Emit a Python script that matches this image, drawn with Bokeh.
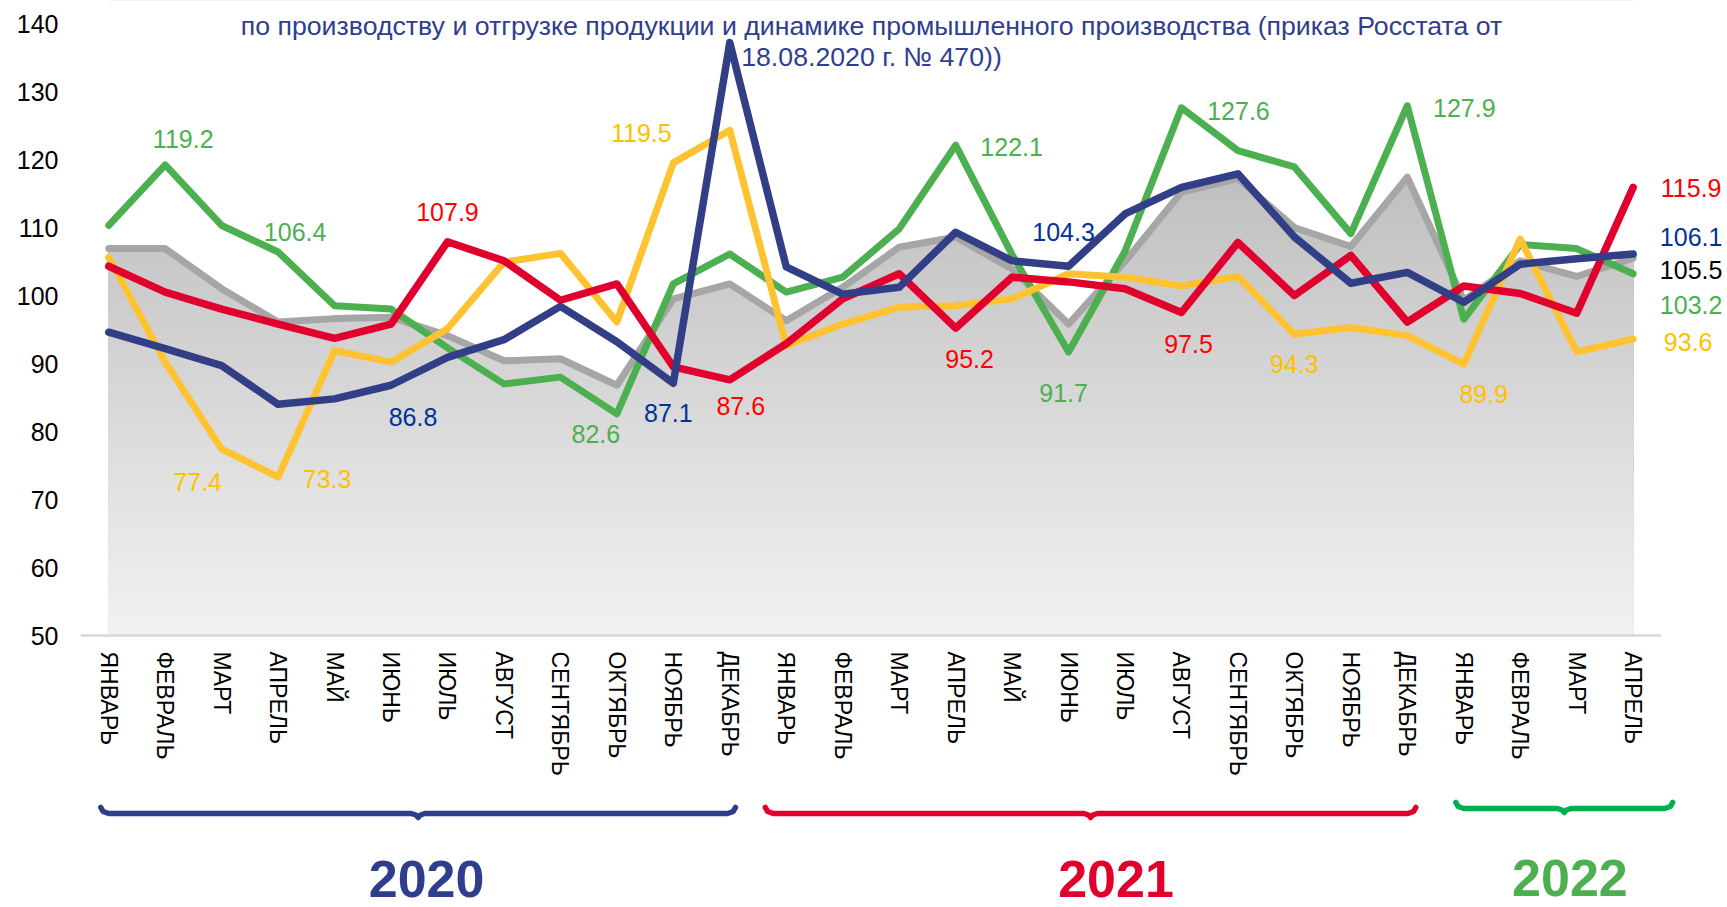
import numpy as np
from bokeh.plotting import figure
from bokeh.models import Range1d, FixedTicker
from bokeh.layouts import column
from bokeh.core.properties import value
from bokeh.embed import file_html
from bokeh.resources import INLINE

# ---------------- data ----------------
months = ["ЯНВАРЬ", "ФЕВРАЛЬ", "МАРТ", "АПРЕЛЬ", "МАЙ", "ИЮНЬ", "ИЮЛЬ", "АВГУСТ",
          "СЕНТЯБРЬ", "ОКТЯБРЬ", "НОЯБРЬ", "ДЕКАБРЬ",
          "ЯНВАРЬ", "ФЕВРАЛЬ", "МАРТ", "АПРЕЛЬ", "МАЙ", "ИЮНЬ", "ИЮЛЬ", "АВГУСТ",
          "СЕНТЯБРЬ", "ОКТЯБРЬ", "НОЯБРЬ", "ДЕКАБРЬ",
          "ЯНВАРЬ", "ФЕВРАЛЬ", "МАРТ", "АПРЕЛЬ"]
years = ["2020", "2021", "2022"]
year_counts = [12, 12, 4]

gray = [106.9, 106.9, 101.0, 96.1, 96.6, 96.8, 94.1, 90.4, 90.7, 86.8, 99.5, 101.7,
        96.3, 101.2, 107.1, 108.6, 103.9, 95.8, 105.0, 115.2, 117.2, 110.0, 107.2, 117.4,
        99.3, 105.1, 102.8, 105.5]
green = [110.3, 119.2, 110.3, 106.4, 98.5, 98.0, 92.3, 87.0, 88.0, 82.6, 101.7, 106.1,
         100.5, 102.7, 109.8, 122.1, 106.0, 91.7, 106.5, 127.6, 121.3, 118.9, 109.1, 127.9,
         96.5, 107.5, 106.9, 103.2]
yellow = [105.6, 90.2, 77.4, 73.3, 91.9, 90.2, 95.1, 104.9, 106.2, 96.1, 119.5, 124.3,
          92.6, 95.8, 98.3, 98.5, 99.5, 103.2, 102.7, 101.4, 102.8, 94.3, 95.3, 94.1,
          89.9, 108.3, 91.7, 93.6]
red = [104.3, 100.5, 98.0, 95.8, 93.7, 95.8, 107.9, 105.1, 99.3, 101.7, 89.5, 87.6,
       92.9, 99.5, 103.2, 95.2, 102.7, 102.0, 101.0, 97.5, 107.8, 100.0, 105.9, 96.1,
       101.4, 100.3, 97.4, 115.9]
blue = [94.6, 92.2, 89.7, 84.0, 84.8, 86.8, 90.9, 93.5, 98.4, 93.2, 87.1, 137.2,
        104.2, 100.2, 101.2, 109.3, 105.1, 104.3, 112.0, 115.9, 117.9, 108.6, 101.8, 103.4,
        99.0, 104.6, 105.4, 106.1]

title_lines = ["по производству и отгрузке продукции и динамике промышленного производства (приказ Росстата от",
               "18.08.2020 г. № 470))"]

# ---------------- styles ----------------
FONT = "Liberation Sans"
C_GREEN, C_YELLOW, C_RED, C_BLUE, C_GRAY = "#4CAF50", "#FFC331", "#E1002D", "#323F87", "#A6A6A6"
L_GREEN, L_YELLOW, L_RED, L_BLUE, L_BLACK = "#4CAF50", "#FFC000", "#FF0000", "#003399", "#000000"
TITLE_C = "#2F3E8E"

series = {
    "gray": (gray, C_GRAY, L_BLACK),
    "green": (green, C_GREEN, L_GREEN),
    "yellow": (yellow, C_YELLOW, L_YELLOW),
    "red": (red, C_RED, L_RED),
    "blue": (blue, C_BLUE, L_BLUE),
}

# which points get a value label, with pixel offsets (dx right, dy down)
value_labels = [
    ("green", 1, 18, -26), ("green", 3, 17, -20), ("green", 9, -21, 20), ("green", 15, 56, 2),
    ("green", 17, -5, 41), ("green", 19, 57, 3), ("green", 23, 57, 2), ("green", 27, 58, 31),
    ("red", 6, 0, -30), ("red", 11, 11, 26), ("red", 15, 14, 31), ("red", 19, 7, 31), ("red", 27, 58, 1),
    ("yellow", 2, -24, 33), ("yellow", 3, 49, 2), ("yellow", 10, -32, -30), ("yellow", 21, 0, 30),
    ("yellow", 24, 20, 30), ("yellow", 27, 55, 3),
    ("blue", 5, 22, 32), ("blue", 10, -5, 30), ("blue", 17, -5, -34), ("blue", 27, 58, -17),
    ("gray", 27, 58, 12),
]

# geometry (pixels)
W, H_MAIN, H_BOT = 1727, 790, 117
LEFT = 80
CAT_PX = 56.46
PX_PER_UNIT = 6.8
Y50_PX = 635
FRAME_BOTTOM_PX = 637

x_end = -0.5 + (W - LEFT) / CAT_PX
y_top = 50 + Y50_PX / PX_PER_UNIT
y_bot = 50 - (FRAME_BOTTOM_PX - Y50_PX) / PX_PER_UNIT


def px_to_x(px):
    return (px - LEFT) / CAT_PX - 0.5


def py_to_v(py):
    return 50 + (Y50_PX - py) / PX_PER_UNIT


idx = list(range(len(months)))

p = figure(width=W, height=H_MAIN, x_range=Range1d(-0.5, x_end), y_range=Range1d(y_bot, y_top),
           output_backend="svg", toolbar_location=None,
           min_border_left=LEFT, min_border_right=0, min_border_top=0,
           min_border_bottom=H_MAIN - FRAME_BOTTOM_PX)
p.outline_line_color = None
p.grid.visible = False
p.background_fill_color = "white"
p.border_fill_color = "white"

# y axis
p.yaxis.ticker = FixedTicker(ticks=list(range(50, 141, 10)))
p.yaxis.axis_line_color = None
p.yaxis.major_tick_line_color = None
p.yaxis.minor_tick_line_color = None
p.yaxis.major_tick_out = 0
p.yaxis.major_label_standoff = 22
p.yaxis.major_label_text_font = FONT
p.yaxis.major_label_text_font_size = "25px"
p.yaxis.major_label_text_color = "#000000"

# x axis
p.xaxis.ticker = FixedTicker(ticks=idx)
p.xaxis.major_label_overrides = {i: m for i, m in enumerate(months)}
p.xaxis.major_label_orientation = "vertical"
p.xaxis.axis_line_color = None
p.xaxis.major_tick_line_color = None
p.xaxis.minor_tick_line_color = None
p.xaxis.major_tick_out = 0
p.xaxis.major_label_standoff = 14
p.xaxis.major_label_text_font = FONT
p.xaxis.major_label_text_font_size = "23px"
p.xaxis.major_label_text_color = "#000000"

# gradient area under the gray series: stacked bands, then white mask above series
g_top_v, g_top_c, g_bot_c = 118.0, 191, 242
tops = [y_top] + list(np.arange(g_top_v, 50.0, -0.5))
cols = []
for t in tops:
    f = min(max((t - 50) / (g_top_v - 50), 0), 1)
    c = int(round(g_bot_c - f * (g_bot_c - g_top_c)))
    cols.append("#%02x%02x%02x" % (c, c, c))
p.quad(left=0, right=idx[-1], bottom=50, top=tops, fill_color=cols, line_color=None)
mask_x = [-0.05] + idx + [idx[-1] + 0.05]
mask_y = [gray[0]] + gray + [gray[-1]]
p.varea(x=mask_x, y1=mask_y, y2=y_top, fill_color="white")

# baseline
p.segment(x0=-0.5, x1=idx[-1] + 0.5, y0=50, y1=50, line_color="#D9D9D9", line_width=2.5)

# lines
for key, lw in [("gray", 7), ("green", 7), ("yellow", 7), ("red", 7.5), ("blue", 7.5)]:
    vals, lc, _ = series[key]
    p.line(idx, vals, line_color=lc, line_width=lw, line_join="round", line_cap="round")

# value labels
lx, ly, ltxt, ldx, ldy, lcol = [], [], [], [], [], []
for key, i, dx, dy in value_labels:
    vals, _, tc = series[key]
    lx.append(i)
    ly.append(vals[i])
    ltxt.append(f"{vals[i]:.1f}")
    ldx.append(dx)
    ldy.append(dy)
    lcol.append(tc)
p.text(x=lx, y=ly, text=ltxt, x_offset=ldx, y_offset=ldy, text_color=lcol,
       text_font=value(FONT), text_font_size="25px", text_align="center", text_baseline="middle")

# title (two lines, partially inside plot)
p.text(x=[px_to_x(871)] * 2, y=[py_to_v(25), py_to_v(56)], text=title_lines,
       text_color=TITLE_C, text_font=value(FONT), text_font_size="26.7px",
       text_align="center", text_baseline="alphabetic")

# ---------------- bottom strip: year brackets ----------------
p2 = figure(width=W, height=H_BOT, x_range=p.x_range, y_range=Range1d(H_BOT, 0),
            output_backend="svg", toolbar_location=None,
            x_axis_location=None, y_axis_location=None,
            min_border_left=LEFT, min_border_right=0, min_border_top=0, min_border_bottom=0)
p2.outline_line_color = None
p2.grid.visible = False
p2.background_fill_color = "white"
p2.border_fill_color = "white"

bracket_colors = ["#2F3E8C", "#E0002B", "#00B050"]
year_colors = ["#2F3E8C", "#E0002B", "#4CAF50"]
bracket_pads = [(-0.14, 0.10), (-0.37, 0.15), (-0.14, 0.70)]
bracket_y = [23, 23, 18]
year_dx = [0.15, 0.45, 0.10]
year_y = [88, 88, 87]

start = 0
for k, n in enumerate(year_counts):
    first, last = start, start + n - 1
    x0 = first + bracket_pads[k][0]
    x1 = last + bracket_pads[k][1]
    xc = (x0 + x1) / 2
    y = bracket_y[k]
    bx = [x0, x0 + 0.04, x0 + 0.14, xc - 0.12, xc - 0.04, xc, xc + 0.04, xc + 0.12,
          x1 - 0.14, x1 - 0.04, x1]
    by = [y - 6, y - 2, y, y, y + 1.5, y + 4, y + 1.5, y, y, y - 2, y - 6]
    p2.line(bx, by, line_color=bracket_colors[k], line_width=5.5, line_join="round", line_cap="round")
    p2.text(x=[xc + year_dx[k]], y=[year_y[k]], text=[years[k]], text_color=year_colors[k],
            text_font=value(FONT), text_font_size="52px", text_font_style="bold",
            text_align="center", text_baseline="middle")
    start += n

layout = column(p, p2, spacing=0)
open("out.html", "w").write(file_html(layout, INLINE))
